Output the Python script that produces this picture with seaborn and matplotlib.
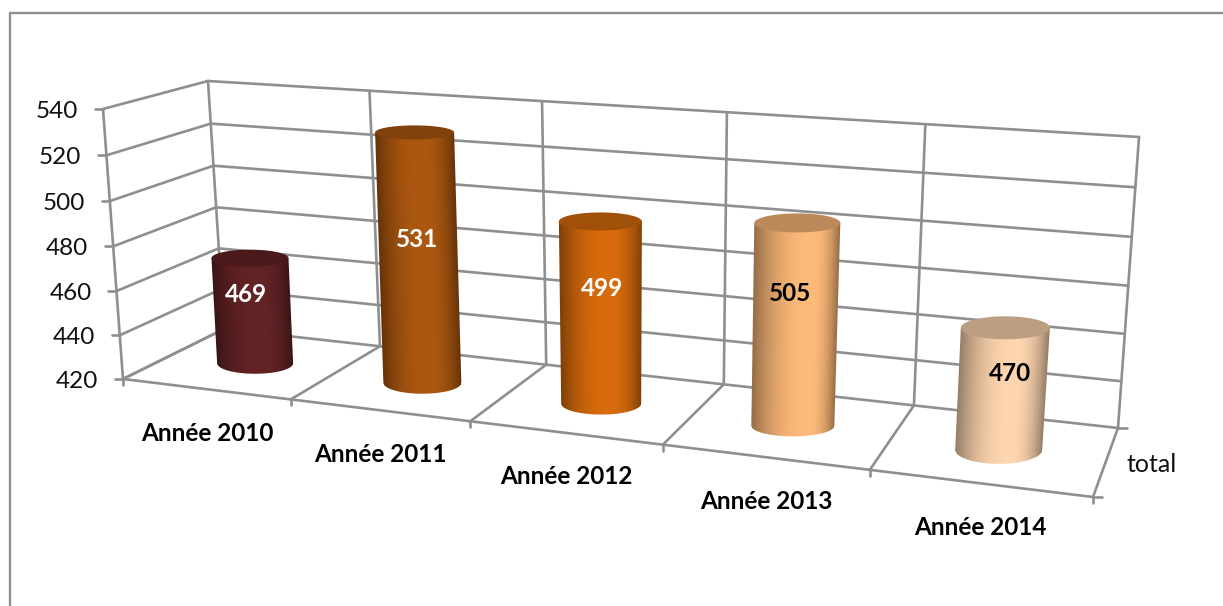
import numpy as np
import pandas as pd
import matplotlib
matplotlib.use("Agg")
import matplotlib.pyplot as plt
from matplotlib.patches import Polygon
from matplotlib.transforms import Transform, Affine2D
import seaborn as sns

# ---- data ----
categories = ["Année 2010", "Année 2011", "Année 2012", "Année 2013", "Année 2014"]
values = [469, 531, 499, 505, 470]
y_ticks = [420, 440, 460, 480, 500, 520, 540]
series_name = "total"

# ---- style ----
bar_colors = ["#642325", "#ad5810", "#d96c0c", "#feba7a", "#fed6b0"]
label_colors = ["white", "white", "white", "black", "black"]
GRID = "#8f8f8f"
W, H = 1223, 606

sns.set_theme(style="white")
plt.rcParams["font.family"] = ["Lato", "DejaVu Sans"]

# ---- 3D box layout, pixel corners of the front and the back plane ----
FRONT = [(123, 379), (1093, 497), (1110, 177), (103, 109)]
BACK = [(224, 329), (1118, 428), (1139, 137), (208, 81)]


def homography(corners):
    src = [(0, 0), (1, 0), (1, 1), (0, 1)]
    A, b = [], []
    for (s, t), (x, y) in zip(src, corners):
        A.append([s, t, 1, 0, 0, 0, -s * x, -t * x]); b.append(x)
        A.append([0, 0, 0, s, t, 1, -s * y, -t * y]); b.append(y)
    return np.append(np.linalg.solve(np.array(A, float), np.array(b, float)), 1).reshape(3, 3)


HF, HB = homography(FRONT), homography(BACK)


def apply_h(h, s, t):
    p = h @ np.vstack([s, t, np.ones_like(s)])
    return p[0] / p[2], p[1] / p[2]


class Projector(Transform):
    """Maps (category position, value) at a depth (0 front, 1 back) to display pixels."""
    input_dims = output_dims = 2

    def __init__(self, plane):
        super().__init__()
        self.plane = plane

    def transform_non_affine(self, xy):
        xy = np.asarray(xy, float)
        s = (xy[:, 0] + 0.5) / len(categories)
        t = (xy[:, 1] - y_ticks[0]) / (y_ticks[-1] - y_ticks[0])
        xf, yf = apply_h(HF, s, t)
        xb, yb = apply_h(HB, s, t)
        x = xf + (xb - xf) * self.plane
        y = yf + (yb - yf) * self.plane
        return np.column_stack([x, H - y])

    def transform_path_non_affine(self, path):
        return type(path)(self.transform_non_affine(path.vertices), path.codes)


front, back, mid = Projector(0), Projector(1), Projector(0.5)
PX = Affine2D().scale(1, -1).translate(0, H)


def shifted(tr, dx, dy):
    # dx to the right, dy downwards, in pixels
    return tr + Affine2D().translate(dx, -dy)


fig = plt.figure(figsize=(W / 100, H / 100), dpi=100, facecolor="white")
ax = fig.add_axes([0, 0, 1, 1])
df = pd.DataFrame({"category": categories, "total": values})
sns.barplot(data=df, x="category", y="total", hue="category", palette=bar_colors,
            order=categories, hue_order=categories, legend=False, width=0.32,
            saturation=1, ax=ax)
ax.set_xlim(-0.5, 4.5)
ax.set_ylim(y_ticks[0], y_ticks[-1])
ax.axis("off")

line_kw = dict(color=GRID, lw=1.9, clip_on=False, solid_capstyle="round", zorder=1, scalex=False, scaley=False)
umin, umax = -0.5, len(categories) - 0.5
edges = np.arange(len(categories) + 1) - 0.5
vmin, vmax = y_ticks[0], y_ticks[-1]

# walls
for v in y_ticks:
    ax.plot([umin, umax], [v, v], transform=back, **line_kw)
    p0 = front.transform_non_affine([[umin, v]])[0]
    p1 = back.transform_non_affine([[umin, v]])[0]
    ax.plot([p0[0], p1[0]], [H - p0[1], H - p1[1]], transform=PX, **line_kw)
    ax.plot([p0[0] - 8, p0[0]], [H - p0[1], H - p0[1]], transform=PX, **line_kw)
    ax.text(umin, v, str(v), transform=shifted(front, -25, 2), ha="right", va="center",
            fontsize=17.5, color="#111111", zorder=2)
for u in edges:
    ax.plot([u, u], [vmin, vmax], transform=back, **line_kw)
    p0 = front.transform_non_affine([[u, vmin]])[0]
    p1 = back.transform_non_affine([[u, vmin]])[0]
    ax.plot([p0[0], p1[0]], [H - p0[1], H - p1[1]], transform=PX, **line_kw)
    ax.plot([p0[0], p0[0]], [H - p0[1], H - p0[1] + 6], transform=PX, **line_kw)
ax.plot([umin, umin], [vmin, vmax], transform=front, **line_kw)
ax.plot([umin, umax], [vmin, vmin], transform=front, **line_kw)
for tr in (front, back):
    p = tr.transform_non_affine([[umax, vmin]])[0]
    ax.plot([p[0], p[0] + 9], [H - p[1], H - p[1]], transform=PX, **line_kw)

# category labels and series name
for i, c in enumerate(categories):
    ax.text(i, vmin, c, transform=shifted(front, 1.5, 44), ha="center", va="center",
            fontsize=17.5, fontweight="bold", color="black", zorder=2)
ax.text(umax, vmin, series_name, transform=shifted(Projector(0.5), 21, 2), ha="left", va="center",
        fontsize=18, color="#111111", zorder=2)

# cylinder shape: half widths top/base, ellipse half heights top/base, label offset from the top centre
half_top = [38.5, 39.5, 41.5, 43, 44.5]
half_base = [38, 39, 40, 41.5, 43.5]
ell_top = [8.5, 7, 9, 9.5, 11.5]
ell_base = [10.5, 11, 11, 10.5, 14]
label_dx = [-4, 2, 2, -7, 5]
label_dy = [36, 107, 67, 71, 46]
highlight = [0.6, 0.58, 0.6, 0.68, 0.62]
shift_top, shift_base = 3, 2

for i, patch in enumerate(ax.patches):
    patch.set_y(vmin)
    patch.set_height(values[i] - vmin)
    patch.set_transform(mid)
    patch.set_clip_on(False)
    patch.set_zorder(3)
    u = patch.get_x() + patch.get_width() / 2
    value = patch.get_y() + patch.get_height()
    tx, ty = mid.transform_non_affine([[u, value]])[0]
    bx, by = mid.transform_non_affine([[u, vmin]])[0]
    ty, by = H - ty, H - by
    tx, bx = tx + shift_top, bx + shift_base
    base = np.array(matplotlib.colors.to_rgb(bar_colors[i]))

    # shaded body, computed per pixel so the lean of the cylinder is followed
    x0 = int(min(tx - half_top[i], bx - half_base[i])) - 3
    x1 = int(max(tx + half_top[i], bx + half_base[i])) + 3
    y0 = int(ty) - 1
    y1 = int(by + ell_base[i]) + 3
    xs, ys = np.meshgrid(np.arange(x0, x1) + 0.5, np.arange(y0, y1) + 0.5)
    frac = np.clip((ys - ty) / (by - ty), 0, 1)
    cx = tx + (bx - tx) * frac
    hw = half_top[i] + (half_base[i] - half_top[i]) * frac
    xn = (xs - cx) / hw
    pos = np.clip((xn + 1) / 2, 0, 1)
    hl = highlight[i]
    d = np.where(pos < hl, (hl - pos) / hl, (pos - hl) / (1 - hl))
    shade = 1 - 0.42 * d ** 2.2
    alpha = np.clip((1 - np.abs(xn)) * hw + 0.5, 0, 1)
    floor_y = by + ell_base[i] * np.sqrt(np.clip(1 - xn ** 2, 0, 1))
    alpha *= np.clip(floor_y - ys + 0.5, 0, 1) * (ys >= ty)
    rgba = np.dstack([base[0] * shade, base[1] * shade, base[2] * shade, alpha])
    ax.imshow(rgba, extent=(x0, x1, y1, y0), transform=PX, aspect="auto",
              interpolation="nearest", origin="upper", zorder=4)

    ang = np.linspace(0, 2 * np.pi, 120)
    cap = Polygon(np.column_stack([tx + half_top[i] * np.cos(ang), ty + ell_top[i] * np.sin(ang)]),
                  closed=True, facecolor=base * 0.74, edgecolor="none", transform=PX, zorder=5, clip_on=False)
    ax.add_patch(cap)
    ax.text(tx + label_dx[i], ty + label_dy[i], str(values[i]), transform=PX, ha="center", va="center",
            fontsize=17.5, fontweight="bold", color=label_colors[i], zorder=6)

ax.set_xlim(-0.5, 4.5)
ax.set_ylim(y_ticks[0], y_ticks[-1])

# chart frame
frame_kw = dict(color="#8f8f8f", lw=1.7, clip_on=False, zorder=0, scalex=False, scaley=False)
ax.plot([10, 10, W], [H, 12.5, 12.5], transform=PX, **frame_kw)

fig.savefig("out.png", dpi=100, facecolor="white")
